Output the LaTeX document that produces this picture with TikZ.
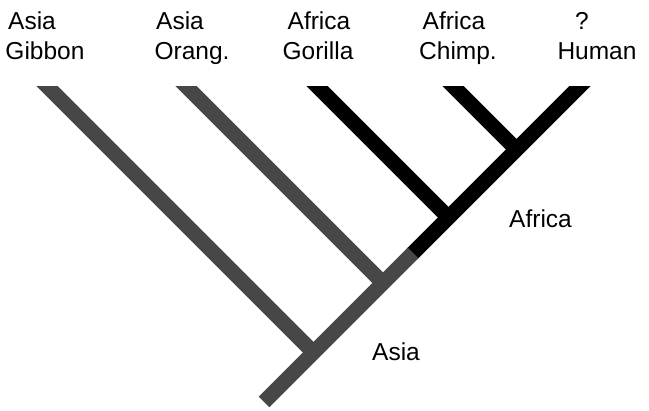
\documentclass[tikz,border=0pt]{standalone}
\usepackage{fontspec}
\setmainfont{Liberation Sans}
\begin{document}
\begin{tikzpicture}[x=1pt,y=-1pt,
  lbl/.style={inner sep=0pt,anchor=base,font=\fontsize{24.5}{29}\selectfont},
  grayb/.style={line width=15pt,line cap=butt,draw=black!72},
  blackb/.style={line width=15pt,line cap=butt,draw=black}]
\useasboundingbox (0,0) rectangle (649,411);
% coordinates (trunk: x+y=666)
\coordinate (root) at (264,402);
\coordinate (jGib) at (313.5,352.5);
\coordinate (jOra) at (383,283);
\coordinate (mid)  at (412,254);
\coordinate (jGor) at (448.5,217.5);
\coordinate (jChi) at (516.5,149.5);
\coordinate (tGib) at (41,80);
\coordinate (tOra) at (180,80);
\coordinate (tGor) at (311,80);
\coordinate (tChi) at (447,80);
\coordinate (tHum) at (586,80);
\begin{scope}
\clip (0,87) rectangle (649,411);
\draw[grayb] (tGib) -- (jGib);
\draw[grayb] (tOra) -- (jOra);
\draw[blackb] (tGor) -- (jGor);
\draw[blackb] (tChi) -- (jChi);
\draw[blackb] (mid) -- (tHum);
\draw[grayb] (root) -- ([shift={(1,-1)}]mid);
\end{scope}
% labels
\node[lbl] (a1) at (32,30) {Asia};
\node[lbl] (n1) at (45,60) {Gibbon};
\node[lbl] (a2) at (180,30) {Asia};
\node[lbl] (n2) at (192,60) {Orang.};
\node[lbl] (a3) at (319,30) {Africa};
\node[lbl] (n3) at (318,60) {Gorilla};
\node[lbl] (a4) at (454,30) {Africa};
\node[lbl] (n4) at (458,60) {Chimp.};
\node[lbl] (a5) at (582,30) {?};
\node[lbl] (n5) at (597,60) {Human};
\node[lbl,anchor=base west] (af) at (509,228) {Africa};
\node[lbl,anchor=base west] (as) at (372,361) {Asia};
\end{tikzpicture}
\end{document}
